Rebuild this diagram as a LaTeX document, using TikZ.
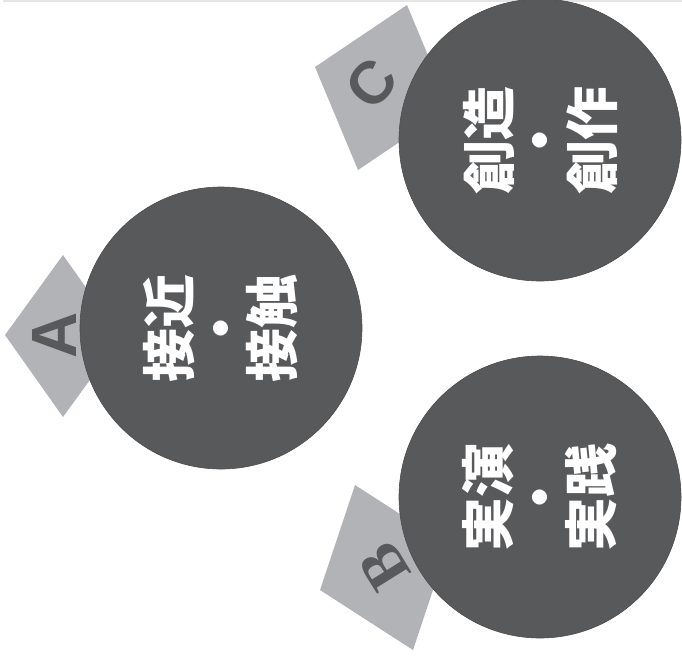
\documentclass[tikz,border=0pt]{standalone}
\usepackage{fontspec}
\setmainfont{Liberation Sans}
\newfontfamily\jpfont{Noto Sans CJK JP}
\newfontfamily\serfont{Liberation Serif}
\usepackage{xcolor}
\usetikzlibrary{positioning}
\definecolor{discgray}{HTML}{58595B}
\definecolor{tagggray}{HTML}{B1B3B6}
\tikzset{
  disc/.style={circle, fill=discgray, draw=black!70, line width=0.6pt, minimum size=282pt, inner sep=0pt,
    text=white, align=center, rotate=90, font=\jpfont\bfseries\fontsize{54}{51.5}\selectfont},
  tag/.style={fill=tagggray},
  tagletter/.style={text=discgray, inner sep=0pt, font=\bfseries\fontsize{64}{64}\selectfont}
}
\begin{document}
\begin{tikzpicture}[x=1pt, y=-1pt]
\useasboundingbox (0,0) rectangle (682,657);
\fill[black!10] (3,0) rectangle (682,1.6);
% tags behind the discs
\fill[tag] (5,335) -- (63,255) -- (121,337) -- (63,417) -- cycle;
\fill[tag] (315,67) -- (407,5) -- (450,108) -- (358,170) -- cycle;
\fill[tag] (320,590) -- (355,485) -- (448,545) -- (413,650) -- cycle;
\node[tagletter, rotate=90] (ta) at (54,335) {A};
\node[tagletter, rotate=50, font=\bfseries\fontsize{60}{60}\selectfont] (tc) at (372,84) {C};
\node[tagletter, rotate=122, font=\serfont\bfseries\fontsize{62}{62}\selectfont] (tb) at (384,567) {B};
% discs
\node[disc] (da) at (221,328) {接近\\・\\接触};
\node[disc] (dc) at (540,140) {創造\\・\\創作};
\node[disc] (db) at (540,497) {実演\\・\\実践};
\end{tikzpicture}
\end{document}
